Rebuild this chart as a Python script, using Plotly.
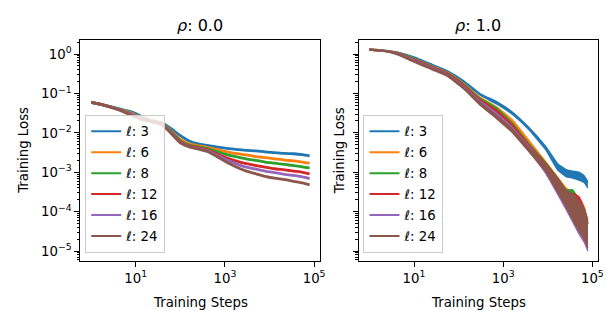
import plotly.graph_objects as go

ELLS = [3, 6, 8, 12, 16, 24]
COLORS = ["#1f77b4", "#ff7f0e", "#2ca02c", "#d62728", "#9467bd", "#8c564b"]
PANEL_TITLES = ["<i>ρ</i>: 0.0", "<i>ρ</i>: 1.0"]
X_LABEL = "Training Steps"
Y_LABEL = "Training Loss"
X_TICKVALS = [10, 1000, 100000]
X_TICKTEXT = ["10<sup>1</sup>", "10<sup>3</sup>", "10<sup>5</sup>"]
Y_TICKVALS = [1e-5, 1e-4, 1e-3, 1e-2, 1e-1, 1]
Y_TICKTEXT = ["10<sup>−5</sup>", "10<sup>−4</sup>", "10<sup>−3</sup>",
              "10<sup>−2</sup>", "10<sup>−1</sup>", "10<sup>0</sup>"]

# ---- rho = 0.0 panel ----
STEPS_RHO0 = [1, 2, 4.5, 8, 12.6, 20, 40, 63, 100, 158, 251, 398, 631, 1000,
              1740, 3020, 5010, 7940, 12900, 21900, 34700, 55000, 79400]
LOSS_RHO0_L3 = [5.9e-2, 5.0e-2, 4.0e-2, 3.4e-2, 2.7e-2, 2.14e-2, 1.78e-2, 1.26e-2, 8.5e-3, 6.2e-3,
                5.25e-3, 4.8e-3, 4.4e-3, 4.1e-3, 3.8e-3, 3.6e-3, 3.5e-3, 3.3e-3, 3.16e-3, 3.0e-3,
                2.95e-3, 2.8e-3, 2.6e-3]
LOSS_RHO0_L6 = [5.9e-2, 5.0e-2, 3.9e-2, 3.16e-2, 2.5e-2, 2.1e-2, 1.74e-2, 1.1e-2, 6.8e-3, 5.25e-3,
                4.7e-3, 4.3e-3, 3.8e-3, 3.4e-3, 3.0e-3, 2.75e-3, 2.5e-3, 2.35e-3, 2.2e-3, 2.04e-3,
                1.95e-3, 1.82e-3, 1.7e-3]
LOSS_RHO0_L8 = [5.9e-2, 5.0e-2, 3.9e-2, 3.0e-2, 2.45e-2, 2.04e-2, 1.7e-2, 1.05e-2, 6.3e-3, 4.9e-3,
                4.4e-3, 4.0e-3, 3.4e-3, 2.9e-3, 2.5e-3, 2.2e-3, 2.0e-3, 1.82e-3, 1.7e-3, 1.58e-3,
                1.48e-3, 1.38e-3, 1.29e-3]
LOSS_RHO0_L12 = [5.9e-2, 5.0e-2, 3.8e-2, 2.95e-2, 2.4e-2, 2.04e-2, 1.66e-2, 1.0e-2, 6.0e-3, 4.7e-3,
                 4.2e-3, 3.7e-3, 3.0e-3, 2.4e-3, 1.95e-3, 1.66e-3, 1.48e-3, 1.35e-3, 1.23e-3, 1.15e-3,
                 1.07e-3, 1.0e-3, 9.1e-4]
LOSS_RHO0_L16 = [5.9e-2, 5.0e-2, 3.8e-2, 2.9e-2, 2.35e-2, 2.0e-2, 1.62e-2, 9.8e-3, 5.75e-3, 4.5e-3,
                 4.0e-3, 3.55e-3, 2.8e-3, 2.14e-3, 1.66e-3, 1.35e-3, 1.2e-3, 1.07e-3, 9.8e-4, 8.9e-4,
                 8.3e-4, 7.6e-4, 6.9e-4]
LOSS_RHO0_L24 = [5.9e-2, 5.0e-2, 3.7e-2, 2.75e-2, 2.24e-2, 2.0e-2, 1.58e-2, 9.5e-3, 5.6e-3, 4.4e-3,
                 3.9e-3, 3.4e-3, 2.6e-3, 1.9e-3, 1.38e-3, 1.07e-3, 9.1e-4, 7.9e-4, 7.1e-4, 6.5e-4,
                 5.9e-4, 5.4e-4, 4.8e-4]

# ---- rho = 1.0 panel (noisy: upper / lower envelope of the loss trace) ----
STEPS_RHO1 = [1, 2, 4.3, 10, 23, 55, 130, 300, 710, 1600, 3700, 8900,
              16600, 25700, 36300, 50100, 66100, 79400]
LOSS_RHO1_L3_HI = [1.32, 1.26, 1.12, 0.85, 0.575, 0.38, 0.21, 0.10, 0.062, 0.034, 0.0141, 4.6e-3,
                   1.66e-3, 1.17e-3, 1.07e-3, 1.0e-3, 8.1e-4, 5.75e-4]
LOSS_RHO1_L3_LO = [1.26, 1.20, 1.07, 0.81, 0.55, 0.363, 0.191, 0.091, 0.054, 0.0295, 0.0123, 3.8e-3,
                   1.15e-3, 7.8e-4, 7.1e-4, 6.3e-4, 5.4e-4, 4.0e-4]
LOSS_RHO1_L6_HI = [1.32, 1.26, 1.10, 0.79, 0.525, 0.347, 0.182, 0.081, 0.046, 0.0214, 6.6e-3, 1.9e-3,
                   7.6e-4, 4.0e-4, 3.16e-4, 2.24e-4, 1.32e-4, 5.6e-5]
LOSS_RHO1_L6_LO = [1.26, 1.20, 1.05, 0.74, 0.49, 0.324, 0.166, 0.072, 0.040, 0.0178, 5.4e-3, 1.38e-3,
                   4.0e-4, 1.58e-4, 7.9e-5, 4.0e-5, 2.8e-5, 2.24e-5]
LOSS_RHO1_L8_HI = [1.32, 1.26, 1.10, 0.776, 0.513, 0.339, 0.174, 0.076, 0.043, 0.0178, 5.5e-3, 1.78e-3,
                   7.1e-4, 3.6e-4, 3.6e-4, 2.0e-4, 1.2e-4, 5.0e-5]
LOSS_RHO1_L8_LO = [1.26, 1.20, 1.02, 0.724, 0.479, 0.316, 0.158, 0.068, 0.037, 0.0151, 4.5e-3, 1.26e-3,
                   3.5e-4, 1.41e-4, 7.1e-5, 3.8e-5, 2.5e-5, 2.0e-5]
LOSS_RHO1_L12_HI = [1.32, 1.23, 1.07, 0.741, 0.501, 0.331, 0.166, 0.071, 0.038, 0.0162, 5.1e-3, 1.7e-3,
                    6.8e-4, 3.4e-4, 2.9e-4, 2.4e-4, 1.12e-4, 5.0e-5]
LOSS_RHO1_L12_LO = [1.26, 1.18, 1.0, 0.692, 0.457, 0.302, 0.148, 0.063, 0.033, 0.0138, 4.2e-3, 1.15e-3,
                    3.3e-4, 1.32e-4, 6.3e-5, 3.4e-5, 2.1e-5, 1.41e-5]
LOSS_RHO1_L16_HI = [1.32, 1.23, 1.05, 0.708, 0.479, 0.316, 0.155, 0.065, 0.0316, 0.0138, 4.7e-3, 1.58e-3,
                    6.3e-4, 3.3e-4, 2.6e-4, 1.78e-4, 1.0e-4, 5.0e-5]
LOSS_RHO1_L16_LO = [1.26, 1.18, 0.977, 0.646, 0.437, 0.288, 0.138, 0.056, 0.0269, 0.0117, 3.6e-3, 9.5e-4,
                    2.8e-4, 1.15e-4, 5.5e-5, 2.75e-5, 1.66e-5, 1.0e-5]
LOSS_RHO1_L24_HI = [1.32, 1.23, 1.02, 0.676, 0.457, 0.309, 0.148, 0.060, 0.0275, 0.0126, 4.4e-3, 1.66e-3,
                    7.1e-4, 3.5e-4, 2.8e-4, 1.9e-4, 1.12e-4, 6.3e-5]
LOSS_RHO1_L24_LO = [1.26, 1.18, 0.955, 0.617, 0.417, 0.275, 0.129, 0.051, 0.0229, 0.0102, 3.4e-3, 1.05e-3,
                    3.16e-4, 1.32e-4, 6.3e-5, 3.3e-5, 2.0e-5, 1.2e-5]

RHO0 = [LOSS_RHO0_L3, LOSS_RHO0_L6, LOSS_RHO0_L8, LOSS_RHO0_L12, LOSS_RHO0_L16, LOSS_RHO0_L24]
RHO1_HI = [LOSS_RHO1_L3_HI, LOSS_RHO1_L6_HI, LOSS_RHO1_L8_HI, LOSS_RHO1_L12_HI, LOSS_RHO1_L16_HI, LOSS_RHO1_L24_HI]
RHO1_LO = [LOSS_RHO1_L3_LO, LOSS_RHO1_L6_LO, LOSS_RHO1_L8_LO, LOSS_RHO1_L12_LO, LOSS_RHO1_L16_LO, LOSS_RHO1_L24_LO]

W, H = 611, 311
FONT = "DejaVu Sans"

fig = go.Figure()

# left panel lines
for ell, col, ys in zip(ELLS, COLORS, RHO0):
    fig.add_trace(go.Scatter(x=STEPS_RHO0, y=ys, mode="lines", xaxis="x", yaxis="y",
                             line=dict(color=col, width=2.8, shape="spline", smoothing=0.6),
                             showlegend=False, hoverinfo="skip"))

# right panel noisy bands
for ell, col, hi, lo in zip(ELLS, COLORS, RHO1_HI, RHO1_LO):
    fig.add_trace(go.Scatter(x=STEPS_RHO1, y=lo, mode="lines", xaxis="x2", yaxis="y2",
                             line=dict(color=col, width=1.3, shape="spline", smoothing=0.4),
                             showlegend=False, hoverinfo="skip"))
    fig.add_trace(go.Scatter(x=STEPS_RHO1, y=hi, mode="lines", xaxis="x2", yaxis="y2",
                             line=dict(color=col, width=1.3, shape="spline", smoothing=0.4),
                             fill="tonexty", fillcolor=col,
                             showlegend=False, hoverinfo="skip"))

# legend entries
for leg, xa, ya in (("legend", "x", "y"), ("legend2", "x2", "y2")):
    for i, (ell, col) in enumerate(zip(ELLS, COLORS)):
        fig.add_trace(go.Scatter(x=[None], y=[None], mode="lines", xaxis=xa, yaxis=ya,
                                 name=f"ℓ: {ell}", legend=leg, legendgroup=f"{leg}{i}",
                                 line=dict(color=col, width=2)))

left_dom = [73 / W, 315 / W]
right_dom = [354 / W, 596 / W]
y_dom = [(H - 253) / H, (H - 32) / H]

minor_vals = []
for e in range(-6, 1):
    for m in range(2, 10):
        minor_vals.append(m * 10.0 ** e)

common_x = dict(type="log", range=[-0.245, 5.13], tickmode="array", tickvals=X_TICKVALS,
                ticktext=X_TICKTEXT, ticks="outside", ticklen=5, tickwidth=1, tickcolor="black",
                showline=True, linecolor="black", linewidth=1, mirror=True, showgrid=False,
                zeroline=False, tickfont=dict(family=FONT, size=13.3, color="black"))
common_y = dict(type="log", range=[-5.25, 0.355], tickmode="array", tickvals=Y_TICKVALS,
                ticktext=Y_TICKTEXT, ticks="outside", ticklen=5, tickwidth=1, tickcolor="black",
                showline=True, linecolor="black", linewidth=1, mirror=True, showgrid=False,
                zeroline=False, tickfont=dict(family=FONT, size=13.3, color="black"),
                minor=dict(tickmode="array", tickvals=minor_vals, ticks="outside", ticklen=2.5,
                           tickwidth=0.8, tickcolor="black", showgrid=False))

legend_style = dict(bgcolor="rgba(255,255,255,0.8)", bordercolor="#cccccc", borderwidth=1,
                    font=dict(family=FONT, size=13.3, color="black"), xanchor="left",
                    yanchor="top", y=1 - 107 / H, traceorder="grouped", tracegroupgap=0.7,
                    xref="paper", yref="paper")

fig.update_layout(
    width=W, height=H, margin=dict(l=0, r=0, t=0, b=0),
    paper_bgcolor="white", plot_bgcolor="white",
    font=dict(family=FONT, size=13.3, color="black"),
    xaxis=dict(domain=left_dom, anchor="y", **common_x),
    yaxis=dict(domain=y_dom, anchor="x", **common_y),
    xaxis2=dict(domain=right_dom, anchor="y2", **common_x),
    yaxis2=dict(domain=y_dom, anchor="x2", matches="y", showticklabels=False, **common_y),
    legend=dict(x=78 / W, **legend_style),
    legend2=dict(x=359 / W, **legend_style),
)

annotations = []
for dom, title in ((left_dom, PANEL_TITLES[0]), (right_dom, PANEL_TITLES[1])):
    cx = (dom[0] + dom[1]) / 2
    annotations.append(dict(x=cx, y=1 - 18 / H, xref="paper", yref="paper", text=title,
                            showarrow=False, xanchor="center", yanchor="middle",
                            font=dict(family=FONT, size=16, color="black")))
    annotations.append(dict(x=cx, y=1 - 294 / H, xref="paper", yref="paper", text=X_LABEL,
                            showarrow=False, xanchor="center", yanchor="middle",
                            font=dict(family=FONT, size=13.3, color="black")))
for px in (15.5, 335):
    annotations.append(dict(x=px / W, y=1 - 142.5 / H, xref="paper", yref="paper", text=Y_LABEL,
                            showarrow=False, xanchor="center", yanchor="middle", textangle=-90,
                            font=dict(family=FONT, size=13.3, color="black")))
fig.update_layout(annotations=annotations)

fig.write_html("out.html")
